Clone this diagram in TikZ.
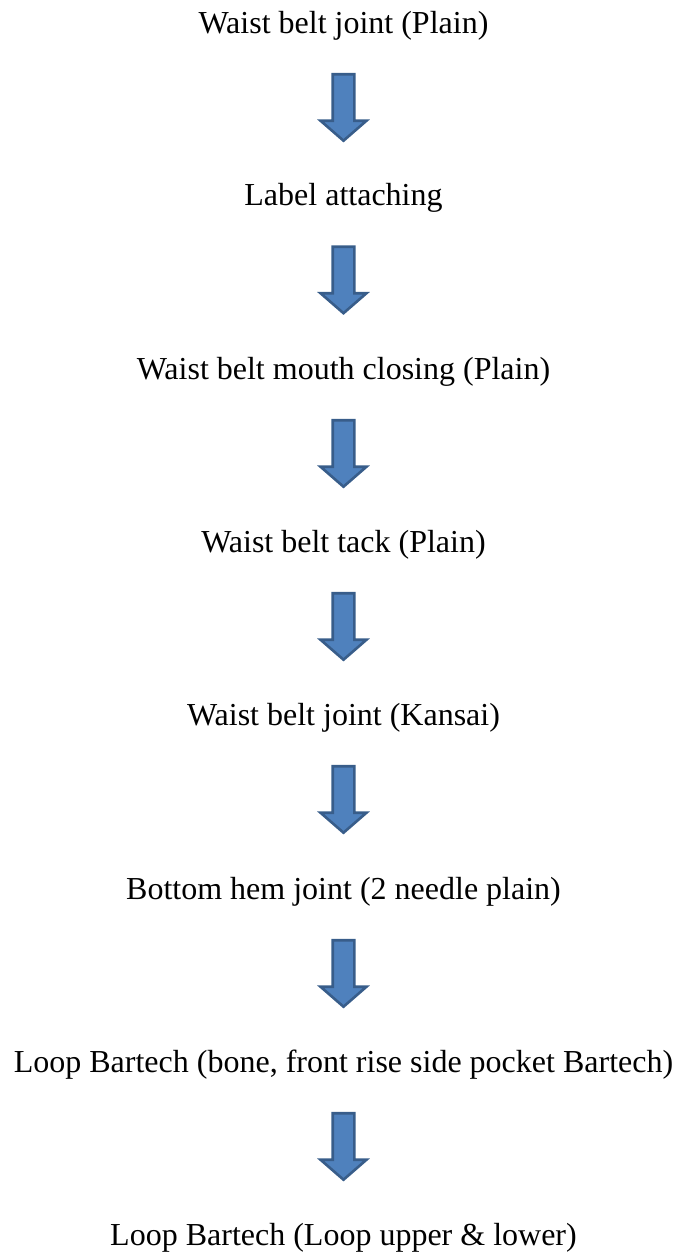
\documentclass[tikz,border=0pt]{standalone}
\usepackage{fontspec}
\setmainfont{Liberation Serif}
\usetikzlibrary{calc}
\definecolor{arrowfill}{HTML}{4F81BD}
\definecolor{arrowline}{HTML}{385D8A}
\tikzset{
  lbl/.style={anchor=base, inner sep=0pt, font=\fontsize{32}{36}\selectfont},
  barrow/.style={fill=arrowfill, draw=arrowline, line width=2.6pt, line join=miter},
}
\newcommand\flowarrow[2]{%
  \coordinate (#1top) at ($(#1.base)+(0,41.2)$);
  \draw[barrow] ($(#1top)+(-10.8,0)$) -- ++(21.6,0) -- ++(0,46.5) -- ++(12.2,0)
    -- ($(#1top)+(0,66.5)$) coordinate (#1tip) -- ($(#1top)+(-23,46.5)$) -- ++(12.2,0) -- cycle;
}
\begin{document}
\begin{tikzpicture}[x=1pt,y=-1pt]
\useasboundingbox (0,0) rectangle (679,1256);
\node[lbl] (t1) at (343.5,33) {Waist belt joint (Plain)};
\node[lbl] (t2) at (343.5,205.5) {Label attaching};
\node[lbl] (t3) at (343.5,379) {Waist belt mouth closing (Plain)};
\node[lbl] (t4) at (343.5,552) {Waist belt tack (Plain)};
\node[lbl] (t5) at (343.5,725) {Waist belt joint (Kansai)};
\node[lbl] (t6) at (343.5,899) {Bottom hem joint (2 needle plain)};
\node[lbl] (t7) at (343.5,1072) {Loop Bartech (bone, front rise side pocket Bartech)};
\node[lbl] (t8) at (343.5,1245) {Loop Bartech (Loop upper \& lower)};
\flowarrow{t1}{t2}
\flowarrow{t2}{t3}
\flowarrow{t3}{t4}
\flowarrow{t4}{t5}
\flowarrow{t5}{t6}
\flowarrow{t6}{t7}
\flowarrow{t7}{t8}
\end{tikzpicture}
\end{document}
